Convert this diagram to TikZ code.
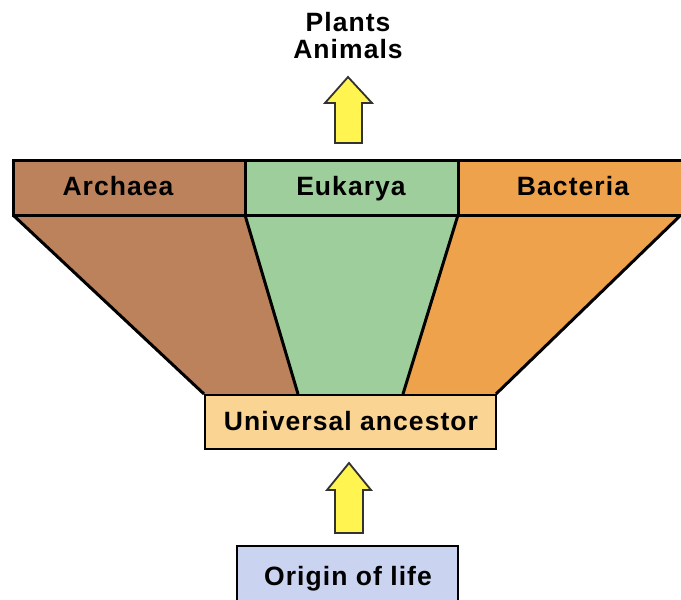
\documentclass[tikz,border=0pt]{standalone}
\usepackage{fontspec}
\setmainfont{Liberation Sans}
\definecolor{archaea}{RGB}{188,130,92}
\definecolor{eukarya}{RGB}{158,206,156}
\definecolor{bacteria}{RGB}{238,162,76}
\definecolor{ancestor}{RGB}{250,212,146}
\definecolor{origin}{RGB}{202,212,240}
\definecolor{arrowyel}{RGB}{255,244,80}
\definecolor{arrowline}{RGB}{50,50,50}
\newfontfamily\lblfont[LetterSpace=4]{Liberation Sans}
\tikzset{
  region/.style={draw=black, line width=3pt, line join=miter},
  lbl/.style={font=\lblfont\fontsize{26.5}{27}\selectfont\bfseries, text=black, inner sep=0pt, anchor=base},
  boxlbl/.style={draw=black, line width=2.8pt},
  blockarrow/.style={draw=arrowline, fill=arrowyel, line width=1.8pt, line join=miter},
}
\begin{document}
\begin{tikzpicture}[x=1pt,y=-1pt]
\useasboundingbox (0,0) rectangle (681,600);
\begin{scope}
\clip (0,0) rectangle (681,600);
% lower trapezoid parts
\fill[archaea] (13,215) -- (245,215) -- (298,394) -- (204,394) -- cycle;
\fill[eukarya] (245,215) -- (458,215) -- (403,394) -- (298,394) -- cycle;
\fill[bacteria] (458,215) -- (684,213) -- (496,394) -- (403,394) -- cycle;
\draw[region] (13,215) -- (204,394);
\draw[region] (245,215) -- (298,394);
\draw[region] (458,215) -- (403,394);
\draw[region] (684,212) -- (496,394);
% top band
\fill[archaea] (13,160) rectangle (245,215);
\fill[eukarya] (245,160) rectangle (458,215);
\fill[bacteria] (458,160) rectangle (690,215);
\draw[region] (690,160) -- (13,160) -- (13,215) -- (690,215);
\draw[region] (245,160) -- (245,215);
\draw[region] (458,160) -- (458,215);
% universal ancestor box
\fill[ancestor] (205,395) rectangle (496,449);
\draw[boxlbl] (205,395) rectangle (496,449);
% origin of life box
\fill[origin] (237,546) rectangle (458,604);
\draw[boxlbl] (237,546) rectangle (458,604);
\end{scope}
% labels
\node[lbl] (arch) at (118,195) {Archaea};
\node[lbl] (euk) at (351,195) {Eukarya};
\node[lbl] (bact) at (573,195) {Bacteria};
\node[lbl] (anc) at (351,430) {Universal ancestor};
\node[lbl] (orig) at (348,585) {Origin of life};
\node[lbl] (plants) at (348,31) {Plants};
\node[lbl] (animals) at (348,58) {Animals};
% block arrows
\coordinate (a1tip) at (348,77);
\draw[blockarrow] (a1tip) -- (372,103) -- (362,103) -- (362,143) -- (335,143) -- (335,103) -- (325,103) -- cycle;
\coordinate (a2tip) at (349,463);
\draw[blockarrow] (a2tip) -- (371,490) -- (363,490) -- (363,533) -- (335,533) -- (335,490) -- (327,490) -- cycle;
\end{tikzpicture}
\end{document}
